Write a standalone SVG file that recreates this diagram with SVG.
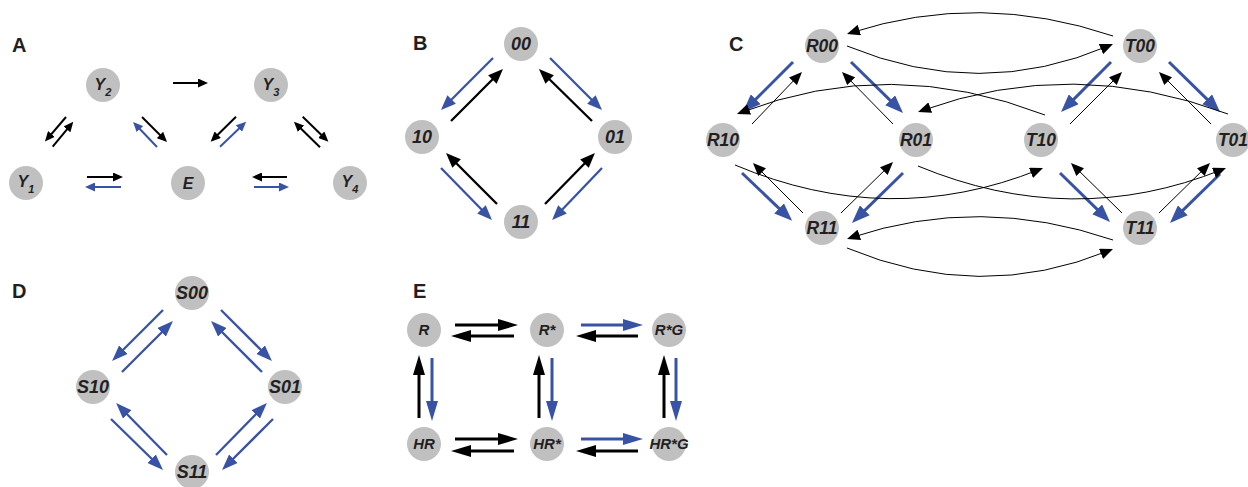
<svg xmlns="http://www.w3.org/2000/svg" width="1248" height="487" viewBox="0 0 1248 487">
<defs>
<style>
.node circle{fill:#c0c0c0}
.node text,.lbl{font-family:"Liberation Sans",Arial,sans-serif;font-weight:bold;fill:#231f20}
.node text{font-style:italic;text-anchor:middle}
.lbl{font-size:20px}
.fA text{font-size:16px}
.fB text{font-size:18px}
.fC text{font-size:17.5px}
.fD text{font-size:18px}
.fE text{font-size:15px}
.k{stroke:#000;fill:none}
.b{stroke:#3953a4;fill:none}
.wA{stroke-width:2}
.wB{stroke-width:2.3}
.wCb{stroke-width:3}
.wCk{stroke-width:1}
.wD{stroke-width:2.3}
.wE{stroke-width:3}
</style>
<marker id="aAk" viewBox="0 0 10 9" markerUnits="userSpaceOnUse" markerWidth="10" markerHeight="9" refX="5" refY="4.5" orient="auto"><path d="M0,0 L10,4.5 L0,9 Z" fill="#000"/></marker>
<marker id="aAb" viewBox="0 0 10 9" markerUnits="userSpaceOnUse" markerWidth="10" markerHeight="9" refX="5" refY="4.5" orient="auto"><path d="M0,0 L10,4.5 L0,9 Z" fill="#3953a4"/></marker>
<marker id="aBk" viewBox="0 0 15 12" markerUnits="userSpaceOnUse" markerWidth="15" markerHeight="12" refX="7.5" refY="6" orient="auto"><path d="M0,0 L15,6 L0,12 Z" fill="#000"/></marker>
<marker id="aBb" viewBox="0 0 15 12" markerUnits="userSpaceOnUse" markerWidth="15" markerHeight="12" refX="7.5" refY="6" orient="auto"><path d="M0,0 L15,6 L0,12 Z" fill="#3953a4"/></marker>
<marker id="aCb" viewBox="0 0 18 14" markerUnits="userSpaceOnUse" markerWidth="18" markerHeight="14" refX="9" refY="7" orient="auto"><path d="M0,0 L18,7 L0,14 Z" fill="#3953a4"/></marker>
<marker id="aCk" viewBox="0 0 13 11" markerUnits="userSpaceOnUse" markerWidth="13" markerHeight="11" refX="9" refY="5.5" orient="auto"><path d="M0,0 L13,5.5 L0,11 Z" fill="#000"/></marker>
<marker id="aDb" viewBox="0 0 16 12" markerUnits="userSpaceOnUse" markerWidth="16" markerHeight="12" refX="8" refY="6" orient="auto"><path d="M0,0 L16,6 L0,12 Z" fill="#3953a4"/></marker>
<marker id="aEk" viewBox="0 0 20 12" markerUnits="userSpaceOnUse" markerWidth="20" markerHeight="12" refX="10" refY="6" orient="auto"><path d="M0,0 L20,6 L0,12 Z" fill="#000"/></marker>
<marker id="aEb" viewBox="0 0 20 12" markerUnits="userSpaceOnUse" markerWidth="20" markerHeight="12" refX="10" refY="6" orient="auto"><path d="M0,0 L20,6 L0,12 Z" fill="#3953a4"/></marker>
</defs>
<rect width="1248" height="487" fill="#fff"/>

<g id="panel-labels">
<text class="lbl" x="12" y="52">A</text>
<text class="lbl" x="413" y="50">B</text>
<text class="lbl" x="729" y="51">C</text>
<text class="lbl" x="12" y="298">D</text>
<text class="lbl" x="413" y="298">E</text>
</g>

<g id="connectors">
<!-- A -->
<path class="k wA" d="M173,83 H203" marker-end="url(#aAk)"/>
<path class="k wA" d="M87,177 H118" marker-end="url(#aAk)"/>
<path class="b wA" d="M121,187 H90" marker-end="url(#aAb)"/>
<path class="k wA" d="M287,177 H257" marker-end="url(#aAk)"/>
<path class="b wA" d="M254,187 H284" marker-end="url(#aAb)"/>
<path class="k wA" d="M66,117 L48.2,137.8" marker-end="url(#aAk)"/>
<path class="k wA" d="M52.7,146.7 L70.1,125.6" marker-end="url(#aAk)"/>
<path class="k wA" d="M142,117 L163.5,138.5" marker-end="url(#aAk)"/>
<path class="b wA" d="M157,147 L136.5,125.5" marker-end="url(#aAb)"/>
<path class="k wA" d="M236,116.7 L214.2,138.2" marker-end="url(#aAk)"/>
<path class="b wA" d="M220,146.7 L242.5,125.2" marker-end="url(#aAb)"/>
<path class="k wA" d="M320,147.3 L297.5,125.2" marker-end="url(#aAk)"/>
<path class="k wA" d="M302.7,116.7 L324.8,138.2" marker-end="url(#aAk)"/>
<!-- B -->
<path class="b wB" d="M493,58 L446.3,104.7" marker-end="url(#aBb)"/>
<path class="k wB" d="M451,121 L497.7,74.3" marker-end="url(#aBk)"/>
<path class="b wB" d="M550,58 L596.7,104.7" marker-end="url(#aBb)"/>
<path class="k wB" d="M592,121 L544.3,74.3" marker-end="url(#aBk)"/>
<path class="b wB" d="M441,168 L486.7,214.7" marker-end="url(#aBb)"/>
<path class="k wB" d="M497,204 L451.3,158.3" marker-end="url(#aBk)"/>
<path class="k wB" d="M545,204 L589.7,158.3" marker-end="url(#aBk)"/>
<path class="b wB" d="M602,168 L557.3,214.7" marker-end="url(#aBb)"/>
<!-- C blue -->
<path class="b wCb" d="M793,62 L749.4,105.6" marker-end="url(#aCb)"/>
<path class="b wCb" d="M851,62 L896.6,106.6" marker-end="url(#aCb)"/>
<path class="b wCb" d="M1111,62 L1067.4,105.6" marker-end="url(#aCb)"/>
<path class="b wCb" d="M1169,62 L1213.6,105.6" marker-end="url(#aCb)"/>
<path class="b wCb" d="M742,173 L785.6,214.6" marker-end="url(#aCb)"/>
<path class="b wCb" d="M903,173 L858.4,216.6" marker-end="url(#aCb)"/>
<path class="b wCb" d="M1060,173 L1103.6,215.6" marker-end="url(#aCb)"/>
<path class="b wCb" d="M1220,174 L1176.4,216.6" marker-end="url(#aCb)"/>
<!-- C black straight -->
<path class="k wCk" d="M752,124 L799.2,74.8" marker-end="url(#aCk)"/>
<path class="k wCk" d="M893,124 L844.8,74.8" marker-end="url(#aCk)"/>
<path class="k wCk" d="M1070,124 L1119.2,74.8" marker-end="url(#aCk)"/>
<path class="k wCk" d="M1211,124 L1161.8,74.8" marker-end="url(#aCk)"/>
<path class="k wCk" d="M803,213 L755.8,165.8" marker-end="url(#aCk)"/>
<path class="k wCk" d="M841,213 L890.2,164.8" marker-end="url(#aCk)"/>
<path class="k wCk" d="M1122,213 L1073.8,165.8" marker-end="url(#aCk)"/>
<path class="k wCk" d="M1159,213 L1207.2,165.8" marker-end="url(#aCk)"/>
<!-- C curves -->
<path class="k wCk" d="M847,46 Q980,101 1109.3,45.6" marker-end="url(#aCk)"/>
<path class="k wCk" d="M1113,36 Q980,-9 850.8,32.8" marker-end="url(#aCk)"/>
<path class="k wCk" d="M1045,115 Q890,55 740.7,112.6" marker-end="url(#aCk)"/>
<path class="k wCk" d="M1228,114 Q1073,56 921.8,110.6" marker-end="url(#aCk)"/>
<path class="k wCk" d="M735,165 Q889,230 1039.3,169.5" marker-end="url(#aCk)"/>
<path class="k wCk" d="M918,166 Q1072,230 1222.3,169.5" marker-end="url(#aCk)"/>
<path class="k wCk" d="M1113,240 Q980,194.5 850.8,237.7" marker-end="url(#aCk)"/>
<path class="k wCk" d="M847,248 Q980,303.5 1109.3,250.5" marker-end="url(#aCk)"/>
<!-- D -->
<path class="b wD" d="M163,310 L117.7,355.3" marker-end="url(#aDb)"/>
<path class="b wD" d="M122,372 L167.3,326.7" marker-end="url(#aDb)"/>
<path class="b wD" d="M221,310 L266.3,355.3" marker-end="url(#aDb)"/>
<path class="b wD" d="M262,372 L216.7,326.7" marker-end="url(#aDb)"/>
<path class="b wD" d="M111,419 L157.3,464.3" marker-end="url(#aDb)"/>
<path class="b wD" d="M167,455 L121.7,408.7" marker-end="url(#aDb)"/>
<path class="b wD" d="M216,455 L261.3,408.7" marker-end="url(#aDb)"/>
<path class="b wD" d="M273,419 L227.7,464.3" marker-end="url(#aDb)"/>
<!-- E -->
<path class="k wE" d="M455,325 H508" marker-end="url(#aEk)"/>
<path class="k wE" d="M514,336 H461" marker-end="url(#aEk)"/>
<path class="b wE" d="M581,325 H633" marker-end="url(#aEb)"/>
<path class="k wE" d="M638,336 H586" marker-end="url(#aEk)"/>
<path class="k wE" d="M455,439 H508" marker-end="url(#aEk)"/>
<path class="k wE" d="M514,451 H461" marker-end="url(#aEk)"/>
<path class="b wE" d="M581,439 H633" marker-end="url(#aEb)"/>
<path class="k wE" d="M638,451 H586" marker-end="url(#aEk)"/>
<path class="k wE" d="M419,418 V365" marker-end="url(#aEk)"/>
<path class="b wE" d="M432,358 V411" marker-end="url(#aEb)"/>
<path class="k wE" d="M539,418 V365" marker-end="url(#aEk)"/>
<path class="b wE" d="M552,358 V411" marker-end="url(#aEb)"/>
<path class="k wE" d="M664,418 V365" marker-end="url(#aEk)"/>
<path class="b wE" d="M676,358 V411" marker-end="url(#aEb)"/>
</g>

<!-- A nodes -->
<g id="A-Y2" class="node fA"><circle cx="103" cy="85" r="17"/><text x="103" y="90">Y<tspan font-size="11" dy="6">2</tspan></text></g>
<g id="A-Y3" class="node fA"><circle cx="271" cy="85" r="17"/><text x="271" y="90">Y<tspan font-size="11" dy="6">3</tspan></text></g>
<g id="A-Y1" class="node fA"><circle cx="26" cy="183" r="17"/><text x="26" y="187">Y<tspan font-size="11" dy="6">1</tspan></text></g>
<g id="A-E" class="node fA"><circle cx="188" cy="183" r="17"/><text x="188" y="189">E</text></g>
<g id="A-Y4" class="node fA"><circle cx="350" cy="183" r="17"/><text x="350" y="187">Y<tspan font-size="11" dy="6">4</tspan></text></g>

<!-- B nodes -->
<g id="B-00" class="node fB"><circle cx="521" cy="44" r="17"/><text x="521" y="50">00</text></g>
<g id="B-10" class="node fB"><circle cx="422" cy="137" r="17"/><text x="422" y="143">10</text></g>
<g id="B-01" class="node fB"><circle cx="615" cy="137" r="17"/><text x="615" y="143">01</text></g>
<g id="B-11" class="node fB"><circle cx="521" cy="222" r="17"/><text x="521" y="228">11</text></g>

<!-- C nodes -->
<g id="C-R00" class="node fC"><circle cx="822" cy="46" r="17"/><text x="822" y="52">R00</text></g>
<g id="C-T00" class="node fC"><circle cx="1140" cy="46" r="17"/><text x="1140" y="52">T00</text></g>
<g id="C-R10" class="node fC"><circle cx="723" cy="140" r="17"/><text x="723" y="146">R10</text></g>
<g id="C-R01" class="node fC"><circle cx="916" cy="140" r="17"/><text x="916" y="146">R01</text></g>
<g id="C-T10" class="node fC"><circle cx="1041" cy="140" r="17"/><text x="1041" y="146">T10</text></g>
<g id="C-T01" class="node fC"><circle cx="1233" cy="140" r="17"/><text x="1233" y="146">T01</text></g>
<g id="C-R11" class="node fC"><circle cx="822" cy="228" r="17"/><text x="822" y="234">R11</text></g>
<g id="C-T11" class="node fC"><circle cx="1140" cy="228" r="17"/><text x="1140" y="234">T11</text></g>

<!-- D nodes -->
<g id="D-S00" class="node fD"><circle cx="192" cy="293" r="17"/><text x="192" y="299">S00</text></g>
<g id="D-S10" class="node fD"><circle cx="93" cy="387" r="17"/><text x="93" y="393">S10</text></g>
<g id="D-S01" class="node fD"><circle cx="285" cy="387" r="17"/><text x="285" y="393">S01</text></g>
<g id="D-S11" class="node fD"><circle cx="192" cy="472" r="17"/><text x="192" y="478">S11</text></g>

<!-- E nodes -->
<g id="E-R" class="node fE"><circle cx="424" cy="330" r="17"/><text x="424" y="335">R</text></g>
<g id="E-Rs" class="node fE"><circle cx="547" cy="330" r="17"/><text x="547" y="335">R*</text></g>
<g id="E-RsG" class="node fE"><circle cx="669" cy="330" r="17"/><text x="669" y="335">R*G</text></g>
<g id="E-HR" class="node fE"><circle cx="424" cy="444" r="17"/><text x="424" y="449">HR</text></g>
<g id="E-HRs" class="node fE"><circle cx="547" cy="444" r="17"/><text x="547" y="449">HR*</text></g>
<g id="E-HRsG" class="node fE"><circle cx="669" cy="444" r="17"/><text x="669" y="449">HR*G</text></g>
</svg>
